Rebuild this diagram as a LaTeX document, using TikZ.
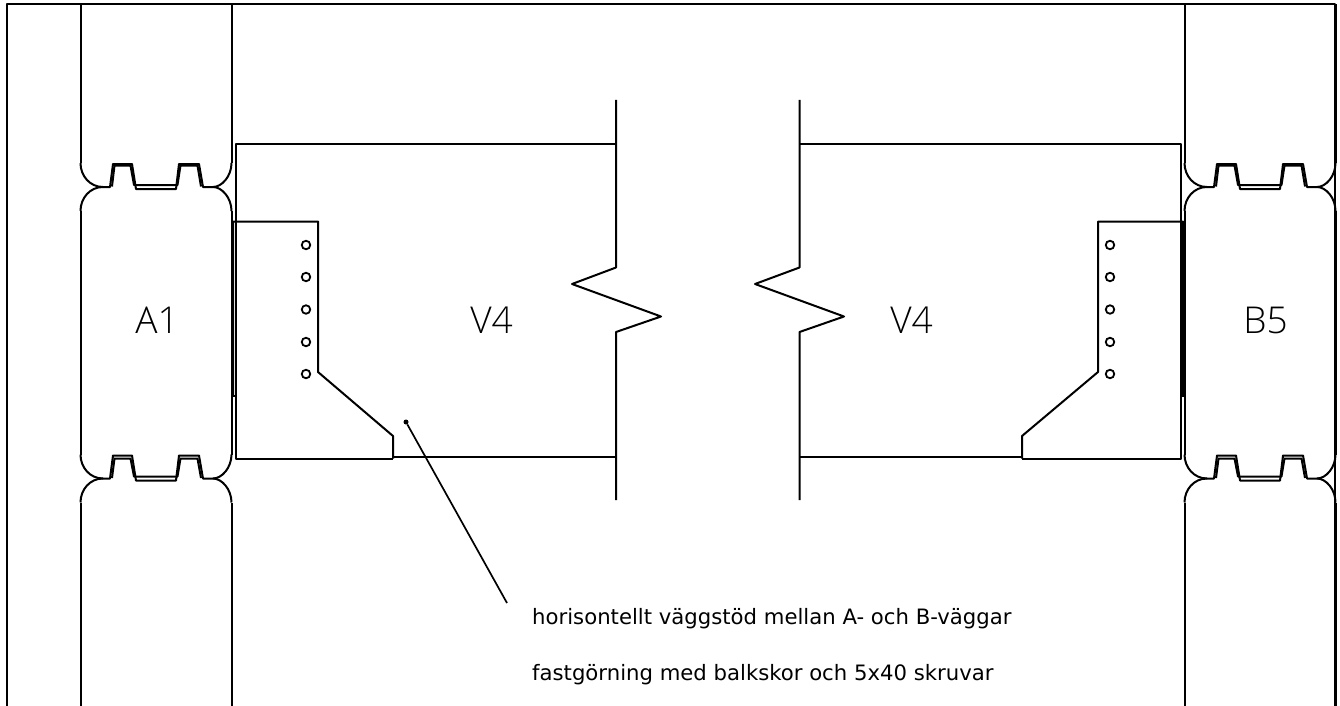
\documentclass[tikz,border=0pt]{standalone}
\usepackage{fontspec}
\setmainfont{DejaVu Sans}
\newfontfamily\lightfont{Open Sans Light}
\tikzset{
  wall/.style={line width=2pt,line join=round},
  label/.style={inner sep=0pt,font=\lightfont\fontsize{37}{40}\selectfont},
  note/.style={inner sep=0pt,anchor=base west,font=\fontsize{21.2}{24}\selectfont},
  hole/.style={circle,draw,line width=1.8pt,inner sep=0pt,minimum size=8.5pt},
  tip/.style={circle,fill,inner sep=0pt,minimum size=5pt}
}
\begin{document}
\begin{tikzpicture}[x=1pt,y=-1pt]
  \useasboundingbox (0,0) rectangle (1340,706);
  \draw [wall] (6.5,706) -- (6.5,4.5) -- (1335,4.5) -- (1335,706); % frame
  \foreach \dx in {0,1104} {
    \begin{scope}[shift={(\dx,0)}]
      \draw [wall] (80.5,4.5) -- (80.5,163); % upper column
      \draw [wall] (231.5,4.5) -- (231.5,163);
      \draw [wall] (80.5,211) -- (80.5,455); % middle column
      \draw [wall] (231.5,211) -- (231.5,455);
      \draw [wall] (80.5,503) -- (80.5,706); % lower column
      \draw [wall] (231.5,503) -- (231.5,706);
      \foreach \dy/\dt in {0/165.5,291.5/167} {
        \begin{scope}[shift={(0,\dy)}]
          \draw [wall] (80.5,163) .. controls (80.5,176) and (90,187) .. (103,187) -- (110,187) -- (113,164) -- (132,164) -- (136,189) -- (176,189) -- (179,164) -- (199,164) -- (203,187) -- (213,187) .. controls (222,187) and (231.5,176) .. (231.5,163); % joint
          \draw [wall] (112,186.5) -- (114.5,\dt) -- (130.5,\dt) -- (134,185) -- (177.5,185) -- (180.5,\dt) -- (197.5,\dt) -- (201,186.5); % tongue
          \draw [wall] (80.5,211) .. controls (80.5,198) and (90,187) .. (103,187);
          \draw [wall] (231.5,211) .. controls (231.5,198) and (222,187) .. (213,187);
        \end{scope}
      }
    \end{scope}
  }
  \draw [wall] (616,100) -- (616,267.5) -- (572,284) -- (661,316.5) -- (616,332) -- (616,500); % left break
  \draw [wall] (799.5,100) -- (799.5,267.5) -- (755,284) -- (844,316.5) -- (799.5,332) -- (799.5,500); % right break
  \draw [wall] (616,144) -- (236,144) -- (236,458.5) -- (393,458.5); % left beam
  \draw [wall] (393,456.5) -- (616,456.5);
  \draw [wall] (799.5,144) -- (1180.5,144) -- (1180.5,458.5) -- (1022,458.5); % right beam
  \draw [wall] (1022,456.5) -- (799.5,456.5);
  \draw [wall] (233,395.5) -- (233,221.5) -- (318,221.5) -- (318,372) -- (393,436) -- (393,458.5); % left shoe
  \draw [wall] (231.5,395.5) -- (236,395.5);
  \draw [wall] (1183,395.5) -- (1183,221.5) -- (1098,221.5) -- (1098,372) -- (1022,436) -- (1022,458.5); % right shoe
  \draw [wall] (1180.5,395.5) -- (1184.5,395.5);
  \foreach \y in {245,277,309.5,342,374} {
    \node [hole] at (306,\y) {}; % screws
    \node [hole] at (1110,\y) {};
  }
  \node [label] (a1) at (157,320) {A1};
  \node [label] (v4l) at (491.5,320) {V4};
  \node [label] (v4r) at (911.5,320) {V4};
  \node [label] (b5) at (1265.5,320) {B5};
  \node [tip] (dot) at (406,422) {};
  \coordinate (end) at (507,603);
  \draw [line width=1.7pt] (dot) -- (end); % leader
  \node [note] (first) at (532,624) {horisontellt väggstöd mellan A- och B-väggar};
  \node [note] (second) at (532,680) {fastgörning med balkskor och 5x40 skruvar};
\end{tikzpicture}
\end{document}
